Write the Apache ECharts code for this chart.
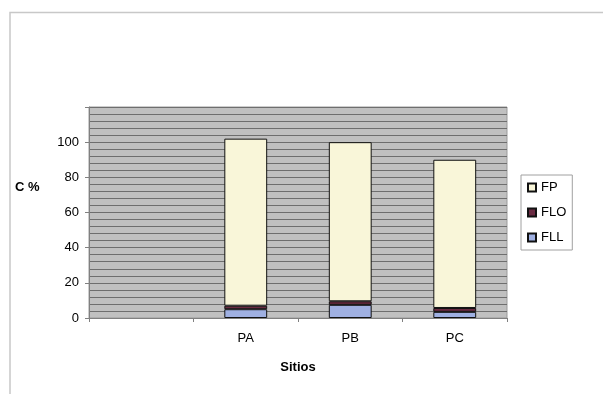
<!DOCTYPE html>
<html>
<head>
<meta charset="utf-8">
<script src="https://cdn.jsdelivr.net/npm/echarts@6/dist/echarts.min.js"></script>
<style>
  html, body { margin: 0; padding: 0; background: #fff; }
  #chart { width: 603px; height: 394px; }
</style>
</head>
<body>
<div id="chart"></div>
<script>
// categories (first slot is empty in the original)
const sitios = ['', 'PA', 'PB', 'PC']

// stacked values, % C
const fll = [null, 5, 7.5, 3.5]
const flo = [null, 2, 2, 2.2]
const fp = [null, 95, 90.5, 84.3]

const yMax = 120
const yStep = 20

const chart = echarts.init(document.getElementById('chart'))

const txt = { fontFamily: 'Liberation Sans, Arial, sans-serif', color: '#000' }

chart.setOption({
  animation: false,
  textStyle: txt,
  graphic: [
    {
      type: 'polyline',
      shape: { points: [[10, 394], [10, 12.5], [603, 12.5]] },
      style: { stroke: '#c8c8c8', fill: null, lineWidth: 1.5 }
    },
    {
      type: 'text',
      left: 15,
      top: 181,
      style: { text: 'C %', font: 'bold 13px Liberation Sans, Arial, sans-serif', fill: '#000' }
    }
  ],
  grid: {
    left: 89,
    top: 107,
    right: 96,
    bottom: 76,
    show: true,
    backgroundColor: '#c0c0c0',
    borderColor: '#9a9a9a',
    borderWidth: 1
  },
  legend: {
    orient: 'vertical',
    left: 521,
    top: 175,
    data: ['FP', 'FLO', 'FLL'],
    icon: 'rect',
    itemWidth: 8,
    itemHeight: 8,
    itemGap: 12,
    padding: [6, 6, 6, 6],
    borderColor: '#a0a0a0',
    borderWidth: 1,
    backgroundColor: '#fff',
    textStyle: { fontSize: 13, color: '#000', fontFamily: txt.fontFamily }
  },
  xAxis: {
    type: 'category',
    data: sitios,
    name: 'Sitios',
    nameLocation: 'middle',
    nameGap: 43,
    nameTextStyle: { fontWeight: 'bold', fontSize: 13, color: '#000' },
    axisLine: { lineStyle: { color: '#808080', width: 1 } },
    axisTick: { show: true, interval: 0, length: 4, lineStyle: { color: '#808080' } },
    axisLabel: { fontSize: 13, color: '#000', margin: 14 },
    splitLine: { show: false }
  },
  yAxis: {
    type: 'value',
    min: 0,
    max: yMax,
    interval: yStep,
    axisLine: { show: true, lineStyle: { color: '#808080', width: 1 } },
    axisTick: { show: true, length: 4, lineStyle: { color: '#808080' } },
    axisLabel: {
      fontSize: 13,
      color: '#000',
      margin: 10,
      formatter: v => (v === yMax ? '' : v)
    },
    splitLine: { show: true, lineStyle: { color: '#6e6e6e', width: 1 } },
    minorTick: { show: false, splitNumber: 5 },
    minorSplitLine: { show: true, lineStyle: { color: '#6e6e6e', width: 1 } }
  },
  series: [
    {
      name: 'FLL',
      type: 'bar',
      stack: 'c',
      data: fll,
      barCategoryGap: '59%',
      itemStyle: { color: '#9fb0e2', borderColor: '#111', borderWidth: 1 }
    },
    {
      name: 'FLO',
      type: 'bar',
      stack: 'c',
      data: flo,
      itemStyle: { color: '#6a2b42', borderColor: '#111', borderWidth: 1 }
    },
    {
      name: 'FP',
      type: 'bar',
      stack: 'c',
      data: fp,
      itemStyle: { color: '#f9f6d9', borderColor: '#111', borderWidth: 1 }
    }
  ]
})
</script>
</body>
</html>
